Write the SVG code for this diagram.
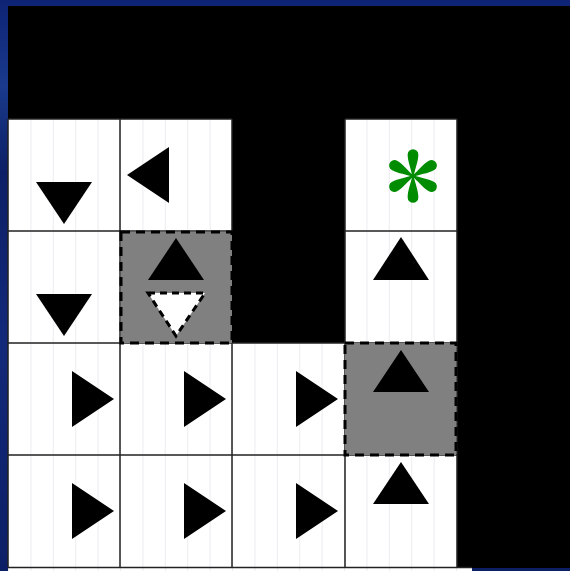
<svg xmlns="http://www.w3.org/2000/svg" width="570" height="571" viewBox="0 0 570 571">
<defs>
<linearGradient id="bg" x1="0" y1="0" x2="0" y2="1">
<stop offset="0" stop-color="#0e2374"/>
<stop offset="0.15" stop-color="#1a3a8c"/>
<stop offset="0.3" stop-color="#0c1f66"/>
<stop offset="0.6" stop-color="#13297a"/>
<stop offset="1" stop-color="#0c1f66"/>
</linearGradient>
<pattern id="stripes" x="8" y="0" width="22.4" height="10" patternUnits="userSpaceOnUse">
<rect width="22.4" height="10" fill="#ffffff"/>
<rect x="0" width="1" height="10" fill="#ececf3"/>
</pattern>
<style>
.tri{fill:#000}
.grid{stroke:#222;stroke-width:1.5;fill:none}
.sel{fill:#808080;stroke:#000;stroke-width:3;stroke-dasharray:9 6}
.blk{fill:#000}
.ast{fill:#008c00}
</style>
</defs>
<rect width="570" height="571" fill="url(#bg)"/>
<rect x="8" y="6" width="464" height="565" fill="url(#stripes)"/>
<g id="black-areas">
<rect class="blk" x="8" y="6" width="562" height="113"/>
<rect class="blk" x="232" y="119" width="113" height="224"/>
<rect class="blk" x="457" y="119" width="113" height="449"/>
</g>
<g id="connectors">
<path class="grid" d="M8 119H232M345 119H457M8 231H232M345 231H457M8 343H457M8 455H457M8 567.5H472M8 119V567M120 119V567M232 119V231M232 343V567M345 119V567M457 119V567"/>
</g>
<g id="r0c0"><polygon class="tri" points="36,182 92,182 64,224"/></g>
<g id="r0c1"><polygon class="tri" points="127,175 169,147 169,203"/></g>
<g id="r0c3"><g class="ast" transform="translate(413,176) scale(1.07)">
<g id="arm"><path d="M-0.8,0 C-1.5,-6 -5,-13 -5,-20 A5,5 0 0 1 5,-20 C5,-13 1.5,-6 0.8,0 Z"/></g>
<use href="#arm" transform="rotate(60)"/>
<use href="#arm" transform="rotate(120)"/>
<use href="#arm" transform="rotate(180)"/>
<use href="#arm" transform="rotate(240)"/>
<use href="#arm" transform="rotate(300)"/>
</g></g>
<g id="r1c0"><polygon class="tri" points="36,294 92,294 64,336"/></g>
<g id="r1c1">
<rect class="sel" x="121" y="232" width="111" height="111"/>
<polygon class="tri" points="176,238 204,280 148,280"/>
<polygon points="148,293 205,293 176,336" fill="#fff" stroke="#000" stroke-width="3" stroke-dasharray="7 5"/>
</g>
<g id="r1c3"><polygon class="tri" points="401,237 429,280 373,280"/></g>
<g id="r2c0"><polygon class="tri" points="72,371 114,399 72,427"/></g>
<g id="r2c1"><polygon class="tri" points="184,371 226,399 184,427"/></g>
<g id="r2c2"><polygon class="tri" points="296,371 338,399 296,427"/></g>
<g id="r2c3">
<rect class="sel" x="345" y="343" width="111" height="112"/>
<polygon class="tri" points="401,350 429,392 373,392"/>
</g>
<g id="r3c0"><polygon class="tri" points="72,483 114,511 72,539"/></g>
<g id="r3c1"><polygon class="tri" points="184,483 226,511 184,539"/></g>
<g id="r3c2"><polygon class="tri" points="296,483 338,511 296,539"/></g>
<g id="r3c3"><polygon class="tri" points="401,462 429,504 373,504"/></g>
</svg>
